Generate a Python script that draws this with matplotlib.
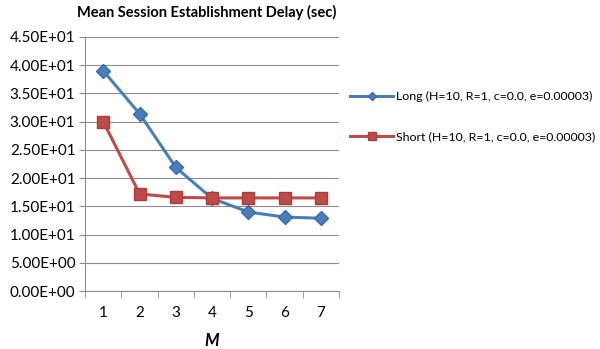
import matplotlib
matplotlib.use("Agg")
import matplotlib.pyplot as plt
from matplotlib.ticker import FixedLocator

plt.rcParams['font.family'] = ['Lato', 'DejaVu Sans']

m_values = [1, 2, 3, 4, 5, 6, 7]
long_delay = [39.0, 31.4, 21.9, 16.4, 14.0, 13.1, 12.9]
short_delay = [30.0, 17.2, 16.6, 16.5, 16.5, 16.5, 16.5]
y_ticks = [0, 5, 10, 15, 20, 25, 30, 35, 40, 45]
long_label = 'Long (H=10, R=1, c=0.0, e=0.00003)'
short_label = 'Short (H=10, R=1, c=0.0, e=0.00003)'

fig = plt.figure(figsize=(6.0, 3.49), dpi=100)
ax = fig.add_axes([0.142, 0.166, 0.423, 0.728])

ax.plot(m_values, long_delay, color='#4A7EBB', lw=2.2, marker='D', ms=7,
        mfc='#4A7EBB', mec='#3A6BA8', label=long_label, zorder=3)
ax.plot(m_values, short_delay, color='#BE4B48', lw=2.2, marker='s', ms=9,
        mfc='#BE4B48', mec='#A83E3B', label=short_label, zorder=3)

ax.set_xlim(0.5, 7.5)
ax.set_ylim(0, 45)
ax.set_yticks(y_ticks)
ax.set_yticklabels(['%.2fE+%02d' % ((v / 10, 1) if v >= 10 else (v, 0)) for v in y_ticks])
ax.yaxis.grid(True, color='#8C8C8C', lw=0.8)
ax.set_axisbelow(True)

ax.set_xticks(m_values)
ax.tick_params(axis='x', which='major', length=0, pad=11, labelsize=11)
ax.xaxis.set_minor_locator(FixedLocator([0.5 + i for i in range(8)]))
ax.tick_params(axis='x', which='minor', length=5, color='#8C8C8C', direction='out')
ax.tick_params(axis='y', length=4, color='#8C8C8C', labelsize=11, pad=3)

for s in ['top', 'right']:
    ax.spines[s].set_visible(False)
for s in ['left', 'bottom']:
    ax.spines[s].set_color('#8C8C8C')

ax.set_xlabel('M', fontsize=12, fontweight='bold', style='italic', labelpad=9)
fig.text(0.345, 0.965, 'Mean Session Establishment Delay (sec)', ha='center', va='center',
         fontsize=10.5, fontweight='bold')

ax.legend(loc='upper left', bbox_to_anchor=(1.0, 0.83), frameon=False, fontsize=8.9,
          handlelength=3.5, labelspacing=2.35, handletextpad=0.2, borderaxespad=0.5,
          markerscale=0.6)

fig.savefig('out.png', dpi=100)
